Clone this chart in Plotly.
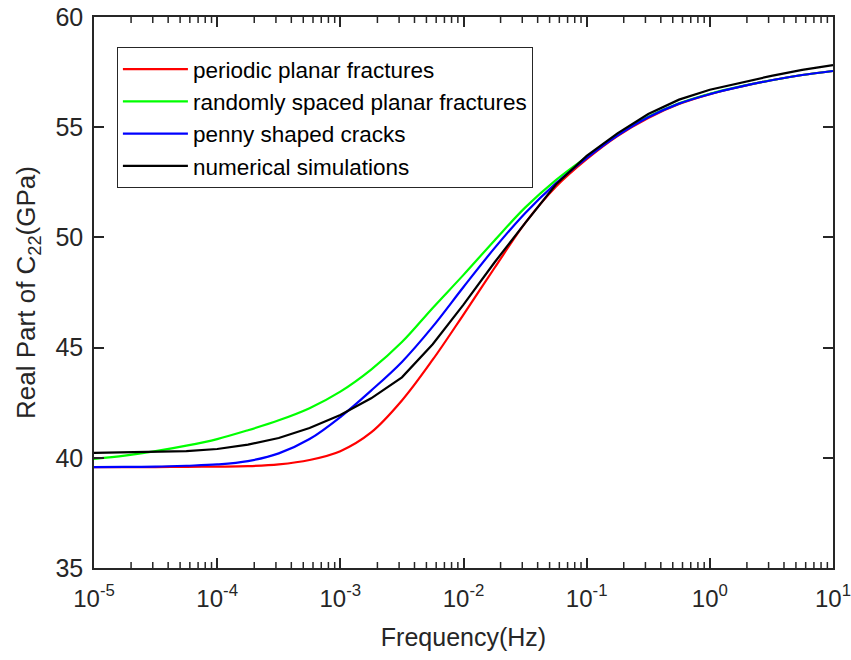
import plotly.graph_objects as go

# log10 of frequency (Hz) at which values are read
log_f = [-5.0, -4.75, -4.5, -4.25, -4.0, -3.75, -3.5, -3.25, -3.0, -2.75, -2.5, -2.25,
         -2.0, -1.75, -1.5, -1.25, -1.0, -0.75, -0.5, -0.25, 0.0, 0.25, 0.5, 0.75, 1.0]
freq = [10 ** v for v in log_f]

periodic = [39.58, 39.58, 39.58, 39.59, 39.60, 39.62, 39.70, 39.90, 40.30, 41.15, 42.60, 44.45,
            46.50, 48.60, 50.65, 52.30, 53.55, 54.60, 55.42, 56.05, 56.50, 56.84, 57.13, 57.37, 57.55]
random_spaced = [39.95, 40.10, 40.30, 40.55, 40.85, 41.25, 41.70, 42.25, 43.00, 44.00, 45.25, 46.80,
                 48.30, 49.85, 51.35, 52.60, 53.65, 54.65, 55.47, 56.08, 56.52, 56.85, 57.13, 57.37, 57.55]
penny = [39.58, 39.59, 39.60, 39.64, 39.70, 39.85, 40.20, 40.85, 41.85, 43.05, 44.35, 45.95,
         47.75, 49.50, 51.10, 52.45, 53.60, 54.62, 55.45, 56.07, 56.50, 56.84, 57.13, 57.37, 57.55]
numerical = [40.22, 40.24, 40.26, 40.30, 40.40, 40.60, 40.90, 41.35, 41.94, 42.70, 43.65, 45.15,
             46.95, 48.85, 50.65, 52.40, 53.70, 54.72, 55.60, 56.25, 56.70, 57.02, 57.33, 57.60, 57.82]

names = ["periodic planar fractures", "randomly spaced planar fractures",
         "penny shaped cracks", "numerical simulations"]
series = [periodic, random_spaced, penny, numerical]
colors = ["#FF0000", "#00FF00", "#0000FF", "#000000"]
shapes_ = ["spline", "spline", "spline", "linear"]

x_tickvals = [1e-5, 1e-4, 1e-3, 1e-2, 1e-1, 1e0, 1e1]
x_ticktext = ["10<sup>-5</sup>", "10<sup>-4</sup>", "10<sup>-3</sup>", "10<sup>-2</sup>",
              "10<sup>-1</sup>", "10<sup>0</sup>", "10<sup>1</sup>"]
x_minor = [m * 10 ** k for k in range(-5, 1) for m in range(2, 10)]
y_tickvals = [35, 40, 45, 50, 55, 60]

fig = go.Figure()
for name, ys, col, shp in zip(names, series, colors, shapes_):
    fig.add_trace(go.Scatter(x=freq, y=ys, mode="lines", name=name,
                             line=dict(color=col, width=2.2, shape=shp)))

axcol = "#262626"
font_family = "Liberation Sans, Arial, sans-serif"

# minor log ticks (inside, bottom and top) drawn as pixel-sized shapes
minor_shapes = []
for v in x_minor:
    minor_shapes.append(dict(type="line", xref="x", x0=v, x1=v, yref="paper",
                             ysizemode="pixel", yanchor=0, y0=0, y1=6,
                             line=dict(color=axcol, width=1.5)))
    minor_shapes.append(dict(type="line", xref="x", x0=v, x1=v, yref="paper",
                             ysizemode="pixel", yanchor=1, y0=0, y1=-6,
                             line=dict(color=axcol, width=1.5)))

fig.update_layout(
    width=851, height=660,
    margin=dict(l=94, r=18, t=17, b=92),
    paper_bgcolor="white", plot_bgcolor="white",
    font=dict(family=font_family, color=axcol, size=24),
    showlegend=True,
    shapes=minor_shapes,
    legend=dict(x=0.031, y=0.9456, xanchor="left", yanchor="top",
                bgcolor="white", bordercolor=axcol, borderwidth=1,
                font=dict(size=22.5, color="#000000"), tracegroupgap=0,
                itemwidth=65),
    xaxis=dict(type="log", range=[-5, 1], tickvals=x_tickvals, ticktext=x_ticktext,
               automargin=False, ticklabeloverflow="allow",
               ticks="inside", ticklen=10, tickwidth=1.5, tickcolor=axcol,
               ticklabelstandoff=8,
               showline=True, linecolor=axcol, linewidth=1.5, mirror="ticks",
               showgrid=False, zeroline=False,
               tickfont=dict(size=24, color=axcol),
               title=dict(text="Frequency(Hz)", font=dict(size=25, color=axcol), standoff=18)),
    yaxis=dict(range=[35, 60], tickvals=y_tickvals, automargin=False,
               ticks="inside", ticklen=10, tickwidth=1.5, tickcolor=axcol,
               ticklabelstandoff=4,
               showline=True, linecolor=axcol, linewidth=1.5, mirror="ticks",
               showgrid=False, zeroline=False,
               tickfont=dict(size=25, color=axcol),
               title=dict(text="Real Part of C<sub>22</sub>(GPa)", font=dict(size=26, color=axcol),
                          standoff=12)),
)

fig.write_html("out.html")
